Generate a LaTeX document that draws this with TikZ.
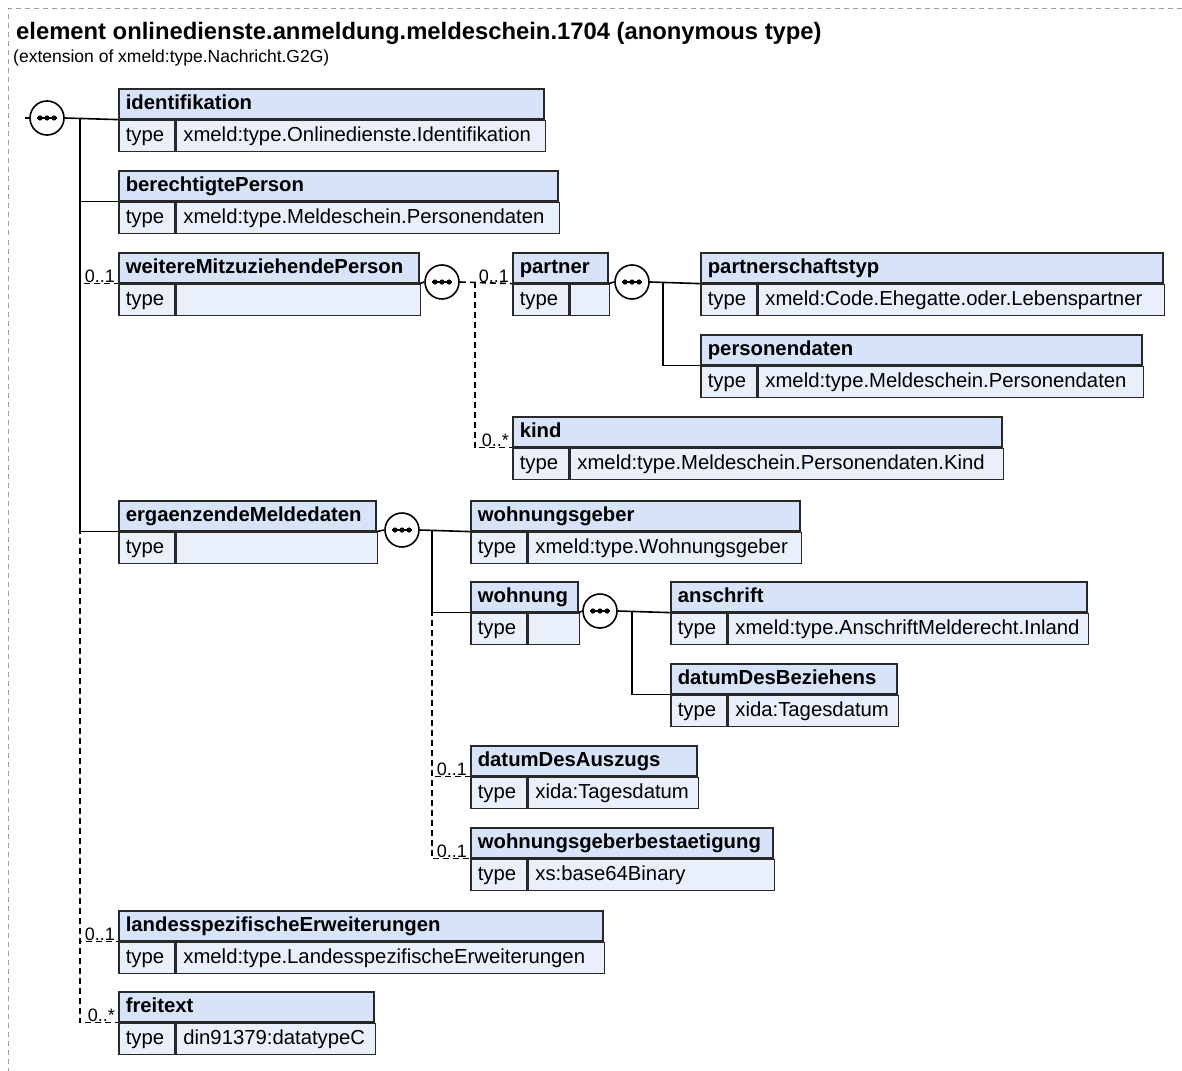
\documentclass[tikz,border=0pt]{standalone}
\usepackage{fontspec}
\setmainfont{Liberation Sans}
\usepackage{tikz}
\usetikzlibrary{positioning}

\definecolor{hdrblue}{RGB}{214,227,248}
\definecolor{cellblue}{RGB}{233,240,252}
\definecolor{edgegray}{RGB}{40,40,40}

\begin{document}
\begin{tikzpicture}[x=1pt, y=-1pt,
    head/.style={draw=edgegray, line width=1.6pt, fill=hdrblue, anchor=north west,
        minimum height=30pt, inner xsep=7pt, inner ysep=0pt, text height=15pt,
        text depth=4pt, font=\fontsize{20.3}{24}\selectfont\bfseries},
    cell/.style={draw=edgegray, line width=1.6pt, fill=cellblue, anchor=north west,
        minimum height=31pt, inner xsep=7pt, inner ysep=0pt, text height=15pt,
        text depth=4pt, font=\fontsize{20.3}{24}\selectfont},
    seq/.style={circle, draw=black, line width=1.6pt, fill=white, minimum size=34pt,
        inner sep=0pt},
    conn/.style={line width=1.6pt},
    opt/.style={conn, dash pattern=on 6pt off 4pt},
    occ/.style={anchor=south east, inner sep=1pt, font=\fontsize{18}{20}\selectfont}
]

    \useasboundingbox (0,0) rectangle (1182,1070);

    % Outer frame
    \draw[gray!75, line width=1pt, dash pattern=on 5pt off 4pt] (1200,9) -- (8.5,9) -- (8.5,1090);

    % Title
    \node[anchor=base west, inner sep=0pt, font=\fontsize{23.8}{28}\selectfont\bfseries] (title)
        at (16,40) {element onlinedienste.anmeldung.meldeschein.1704 (anonymous type)};
    \node[anchor=base west, inner sep=0pt, font=\fontsize{17.5}{21}\selectfont] (subtitle)
        at (13,63) {(extension of xmeld:type.Nachricht.G2G)};

    % Element boxes: name / left / top / width / type
    \foreach \id/\x/\y/\w/\typ in {
        identifikation/118/88/425/xmeld:type.Onlinedienste.Identifikation,
        berechtigtePerson/118/170/439/xmeld:type.Meldeschein.Personendaten,
        weitereMitzuziehendePerson/118/252/300/{},
        partner/512/252/95/{},
        partnerschaftstyp/700/252/462/xmeld:Code.Ehegatte.oder.Lebenspartner,
        personendaten/700/334/441/xmeld:type.Meldeschein.Personendaten,
        kind/512/416/489/xmeld:type.Meldeschein.Personendaten.Kind,
        ergaenzendeMeldedaten/118/500/257/{},
        wohnungsgeber/470/500/329/xmeld:type.Wohnungsgeber,
        wohnung/470/581/107/{},
        anschrift/670/581/416/xmeld:type.AnschriftMelderecht.Inland,
        datumDesBeziehens/670/663/226/xida:Tagesdatum,
        datumDesAuszugs/470/745/226/xida:Tagesdatum,
        wohnungsgeberbestaetigung/470/827/302/xs:base64Binary,
        landesspezifischeErweiterungen/118/910/484/xmeld:type.LandesspezifischeErweiterungen,
        freitext/118/991/255/din91379:datatypeC}{
        \pgfmathsetmacro{\hw}{\w-14}
        \pgfmathsetmacro{\vw}{\w-70}
        \node[head, text width=\hw pt] (\id) at (\x,\y) {\id};
        \node[cell, text width=42pt] (\id-t) at (\id.south west) {type};
        \node[cell, text width=\vw pt] (\id-v) at (\id-t.north east) {\typ};
    }

    % Root sequence
    \coordinate (in0) at (25,118);
    \coordinate (t0) at (80,118);
    \node[seq] (seq0) at (47,118) {};
    \draw[conn] (in0) -- (seq0.west);
    \draw[conn] (seq0.east) -- (identifikation.south west);
    \draw[opt] (t0) |- (freitext.south west);
    \draw[opt] (t0) |- (landesspezifischeErweiterungen.south west);
    \draw[opt] (t0) |- (weitereMitzuziehendePerson.south west);
    \draw[conn] (t0) |- (berechtigtePerson.south west);
    \draw[conn] (t0) |- (ergaenzendeMeldedaten.south west);

    % weitereMitzuziehendePerson
    \coordinate (t1) at (475,282);
    \node[seq] (seq1) at (442,282) {};
    \draw[conn] (weitereMitzuziehendePerson.south east) -- (seq1.west);
    \draw[opt] (seq1.east) -- (partner.south west);
    \draw[opt] (t1) |- (kind.south west);

    % partner
    \coordinate (t2) at (663,282);
    \node[seq] (seq2) at (632,282) {};
    \draw[conn] (partner.south east) -- (seq2.west);
    \draw[conn] (seq2.east) -- (partnerschaftstyp.south west);
    \draw[conn] (t2) |- (personendaten.south west);

    % ergaenzendeMeldedaten
    \coordinate (t3) at (432,530);
    \node[seq] (seq3) at (402,530) {};
    \draw[conn] (ergaenzendeMeldedaten.south east) -- (seq3.west);
    \draw[opt] (t3) |- (wohnungsgeberbestaetigung.south west);
    \draw[opt] (t3) |- (datumDesAuszugs.south west);
    \draw[conn] (seq3.east) -- (wohnungsgeber.south west);
    \draw[conn] (t3) |- (wohnung.south west);

    % wohnung
    \coordinate (t4) at (632,611);
    \node[seq] (seq4) at (600,611) {};
    \draw[conn] (wohnung.south east) -- (seq4.west);
    \draw[conn] (seq4.east) -- (anschrift.south west);
    \draw[conn] (t4) |- (datumDesBeziehens.south west);

    % Sequence dots
    \foreach \s in {seq0,seq1,seq2,seq3,seq4}{
        \draw[line width=1.3pt] ([xshift=-10pt]\s.center) -- ([xshift=10pt]\s.center);
        \foreach \dx in {-7,0,7}
            \fill ([xshift=\dx pt]\s.center) circle (2.6);
    }

    % Occurrences
    \node[occ] (occ1) at ([xshift=-2pt]weitereMitzuziehendePerson.south west) {0..1};
    \node[occ] (occ2) at ([xshift=-2pt]partner.south west) {0..1};
    \node[occ] (occ3) at ([xshift=-2pt]kind.south west) {0..*};
    \node[occ] (occ4) at ([xshift=-2pt]datumDesAuszugs.south west) {0..1};
    \node[occ] (occ5) at ([xshift=-2pt]wohnungsgeberbestaetigung.south west) {0..1};
    \node[occ] (occ6) at ([xshift=-2pt]landesspezifischeErweiterungen.south west) {0..1};
    \node[occ] (occ7) at ([xshift=-2pt]freitext.south west) {0..*};

\end{tikzpicture}
\end{document}
